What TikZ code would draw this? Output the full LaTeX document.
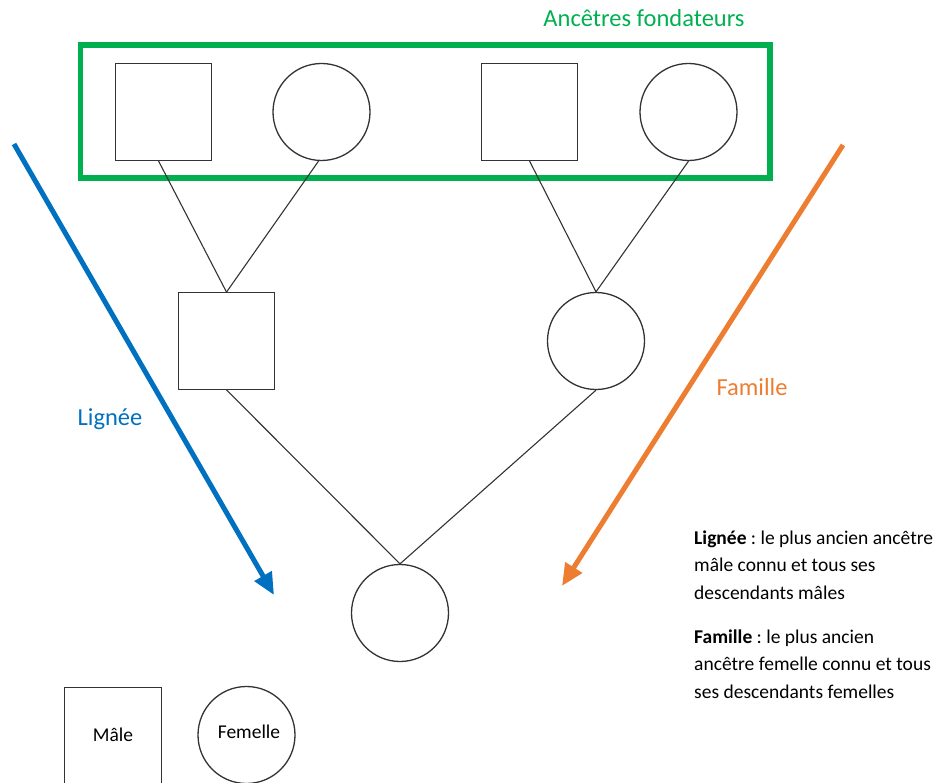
\documentclass[tikz,border=0pt]{standalone}
\usepackage{fontspec}
\setmainfont{Carlito}
\frenchspacing
\usetikzlibrary{arrows.meta}
\definecolor{lineblue}{HTML}{0070C0}
\definecolor{lineorange}{HTML}{ED7D31}
\definecolor{foundgreen}{HTML}{00B050}
\definecolor{shapeline}{HTML}{333333}
\tikzset{
  male/.style={draw=shapeline, line width=1.3pt, rectangle, minimum size=96.5pt, inner sep=0pt},
  female/.style={draw=shapeline, line width=1.3pt, circle, minimum size=97pt, inner sep=0pt},
  link/.style={draw=shapeline, line width=1.1pt},
  bigarrow/.style={line width=5pt, -{Triangle[length=22pt,width=19pt]}},
  biglabel/.style={font=\fontsize{24.5}{29}\selectfont, inner sep=0pt, anchor=base},
  smalltext/.style={font=\fontsize{19.5}{23}\selectfont, inner sep=0pt, anchor=base west},
  legendtext/.style={font=\fontsize{19.5}{23}\selectfont, inner sep=0pt, anchor=base}
}
\begin{document}
\begin{tikzpicture}[x=1pt, y=-1pt]
  \useasboundingbox (0,0) rectangle (939,783);

  % founders frame and title
  \node[draw=foundgreen, line width=5.5pt, minimum width=689.5pt, minimum height=133pt, inner sep=0pt] (frame) at (425.25,111.5) {};
  \node[biglabel, text=foundgreen] (title) at (644,27) {Ancêtres fondateurs};

  % founders
  \node[male]   (f1) at (163.5,112) {};
  \node[female] (m1) at (321.5,112) {};
  \node[male]   (f2) at (529.5,112) {};
  \node[female] (m2) at (688.5,112) {};

  % second generation
  \node[male]   (s1) at (226.5,341) {};
  \node[female] (d1) at (596,341) {};

  % descendant
  \node[female] (g1) at (400,613) {};

  % parent links
  \draw[link] ([xshift=-5pt]f1.south) -- (s1.north);
  \draw[link] ([xshift=-3pt]m1.south) -- (s1.north);
  \draw[link] (f2.south) -- (d1.north);
  \draw[link] (m2.south) -- (d1.north);
  \draw[link] (s1.south) -- (g1.north);
  \draw[link] (d1.south) -- (g1.north);

  % lineage arrows
  \coordinate (bstart) at (14,144);
  \coordinate (bend) at (274,595);
  \coordinate (ostart) at (843,145);
  \coordinate (oend) at (562,586);
  \draw[bigarrow, lineblue] (bstart) -- (bend);
  \draw[bigarrow, lineorange] (ostart) -- (oend);
  \node[biglabel, text=lineblue] (lbl) at (110,425) {Lignée};
  \node[biglabel, text=lineorange] (lbf) at (752,395) {Famille};

  % definitions
  \node[smalltext] (t1) at (694,544) {\textbf{Lignée} : le plus ancien ancêtre};
  \node[smalltext] (t2) at (694,571.5) {mâle connu et tous ses};
  \node[smalltext] (t3) at (694,599) {descendants mâles};
  \node[smalltext] (t4) at (694,643) {\textbf{Famille} : le plus ancien};
  \node[smalltext] (t5) at (694,670.5) {ancêtre femelle connu et tous};
  \node[smalltext] (t6) at (694,698) {ses descendants femelles};

  % legend
  \node[male]   (lm) at (113,736) {};
  \node[female] (lf) at (246.5,735) {};
  \node[legendtext] (lmt) at (113,741) {Mâle};
  \node[legendtext] (lft) at (249,738) {Femelle};
\end{tikzpicture}
\end{document}
